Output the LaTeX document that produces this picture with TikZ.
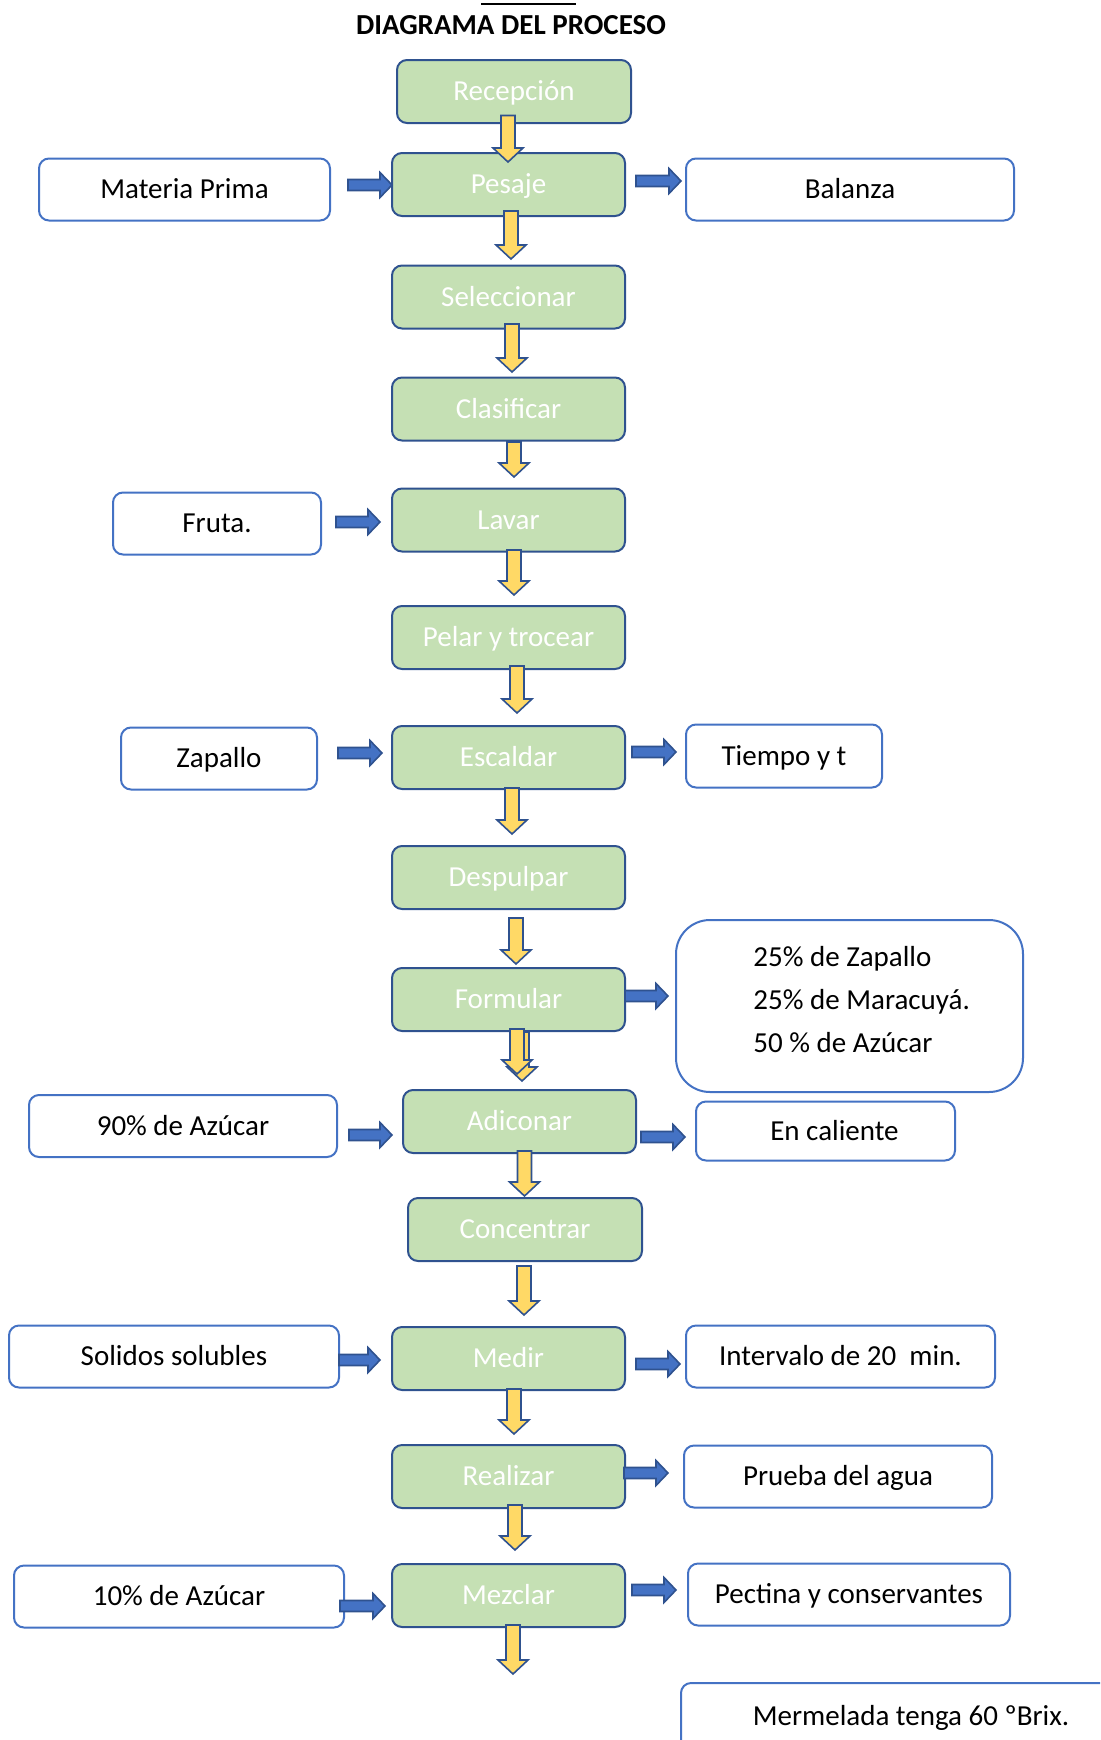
\documentclass[tikz,border=0pt]{standalone}
\usepackage{fontspec}
\setmainfont{Carlito}
\usepackage{tikz}
\usetikzlibrary{calc}
\definecolor{procfill}{HTML}{C5E0B4}
\definecolor{procline}{HTML}{2F528F}
\definecolor{auxline}{HTML}{4472C4}
\definecolor{yfill}{HTML}{FFD966}
\tikzset{
  proc/.style ={draw=procline,fill=procfill,line width=1pt,rounded corners=5pt,
                minimum width=116.5pt,minimum height=31.5pt,text=white,inner sep=0pt,
                text height=9.3pt,text depth=0pt},
  aux/.style  ={draw=auxline,fill=white,line width=1pt,rounded corners=5pt,
                minimum height=31pt,inner sep=0pt,text height=9.3pt,text depth=0pt},
  yarr/.style ={draw=procline,fill=yfill,line width=0.8pt},
  barr/.style ={draw=procline,fill=auxline,line width=0.8pt},
}
% block arrows: down uses x,y of #1 and y of #2; right uses x,y of #1 and x of #2
\newcommand{\dnarrow}[2]{%
  \filldraw[yarr] let \p1=#1, \p2=#2 in
    (\x1-3.5pt,\y1) -- (\x1+3.5pt,\y1) -- (\x1+3.5pt,\y2+7pt) -- (\x1+7.5pt,\y2+7pt)
    -- (\x1,\y2) -- (\x1-7.5pt,\y2+7pt) -- (\x1-3.5pt,\y2+7pt) -- cycle;}
\newcommand{\rtarrow}[2]{%
  \filldraw[barr] let \p1=#1, \p2=#2 in
    (\x1,\y1+2.75pt) -- (\x2-6pt,\y1+2.75pt) -- (\x2-6pt,\y1+6.25pt) -- (\x2,\y1)
    -- (\x2-6pt,\y1-6.25pt) -- (\x2-6pt,\y1-2.75pt) -- (\x1,\y1-2.75pt) -- cycle;}

\begin{document}
\begin{tikzpicture}[x=0.5pt,y=-0.5pt,font=\fontsize{14.5}{17.4}\selectfont]
  \clip (0,0) rectangle (1100,1740);
  \node[font=\bfseries\fontsize{14.5}{17.4}\selectfont] (title) at (511,25) {DIAGRAMA DEL PROCESO};
  \draw[line width=1.2pt] (481,4) -- (576,4);
  % main column
  \node[proc,minimum width=117pt] (recep) at (514,91.5) {Recepción};
  \node[proc] (pesaje)    at (508.5,184.5)  {Pesaje};
  \node[proc] (selec)     at (508.5,297)    {Seleccionar};
  \node[proc] (clasif)    at (508.5,409)    {Clasificar};
  \node[proc] (lavar)     at (508.5,520)    {Lavar};
  \node[proc] (pelar)     at (508.5,637.5)  {Pelar y trocear};
  \node[proc] (escaldar)  at (508.5,757.5)  {Escaldar};
  \node[proc] (despulpar) at (508.5,877.5)  {Despulpar};
  \node[proc] (formular)  at (508.5,999.5)  {Formular};
  \node[proc] (adicionar) at (519.5,1121.5) {Adiconar};
  \node[proc,minimum width=117pt] (concentrar) at (525,1229.5) {Concentrar};
  \node[proc] (medir)     at (508.5,1358.5) {Medir};
  \node[proc] (realizar)  at (508.5,1476.5) {Realizar};
  \node[proc] (mezclar)   at (508.5,1595.5) {Mezclar};
  \coordinate (fin) at (513,1674);
  % inputs
  \node[aux,minimum width=145.5pt] (matprima) at (184.5,189.5) {Materia Prima};
  \node[aux,minimum width=104pt]   (fruta)    at (217,523.5)   {Fruta.};
  \node[aux,minimum width=98pt]    (zapallo)  at (219,758.5)   {Zapallo};
  \node[aux,minimum width=154pt]   (azucar90) at (183,1126)    {90\% de Azúcar};
  \node[aux,minimum width=165pt]   (solidos)  at (174,1356.5)  {Solidos solubles};
  \node[aux,minimum width=165pt]   (azucar10) at (179,1596.5)  {10\% de Azúcar};
  % outputs / notes
  \node[aux,minimum width=164pt]   (balanza)  at (850,189.5)   {Balanza};
  \node[aux,minimum width=98pt,minimum height=31.5pt] (tiempo) at (784,756) {Tiempo y t};
  \node[aux,minimum width=173.5pt,minimum height=86pt,rounded corners=17pt] (formula) at (849.5,1006) {};
  \node[align=left,anchor=west,inner sep=0pt,font=\fontsize{14.5}{21.5}\selectfont] (formtxt) at (753,1000)
    {25\% de Zapallo\\25\% de Maracuyá.\\50 \% de Azúcar};
  \node[aux,minimum width=129.5pt,minimum height=29.5pt] (caliente) at (825.5,1131) {\hspace*{9pt}En caliente};
  \node[aux,minimum width=154.5pt] (intervalo) at (840.5,1356.5) {Intervalo de 20\ \ min.};
  \node[aux,minimum width=154pt]   (prueba)    at (838,1476.5)   {Prueba del agua};
  \node[aux,minimum width=161pt]   (pectina)   at (849,1594.5)   {Pectina y conservantes};
  \node[aux,minimum width=230pt,minimum height=33pt] (brix) at (911,1716) {Mermelada tenga 60 ºBrix.};
  % flow down
  \dnarrow{($(recep.south)+(-6,-8.5)$)}{($(pesaje.north)+(0,10)$)}
  \dnarrow{($(pesaje.south)+(2.5,-6)$)}{($(selec.north)+(0,-5.5)$)}
  \dnarrow{($(selec.south)+(3.5,-5.5)$)}{($(clasif.north)+(0,-4.5)$)}
  \dnarrow{($(clasif.south)+(5.5,0.5)$)}{($(lavar.north)+(0,-10.5)$)}
  \dnarrow{($(lavar.south)+(5.5,-2.5)$)}{($(pelar.north)+(0,-10)$)}
  \dnarrow{($(pelar.south)+(8.5,-4)$)}{($(escaldar.north)+(0,-12)$)}
  \dnarrow{($(escaldar.south)+(3.5,-2)$)}{($(despulpar.north)+(0,-11)$)}
  \dnarrow{($(despulpar.south)+(7.5,8)$)}{($(formular.north)+(0,-3)$)}
  \dnarrow{($(formular.south)+(13.5,0)$)}{($(adicionar.north)+(0,-8)$)}
  \dnarrow{($(formular.south)+(8.5,-3)$)}{($(adicionar.north)+(0,-15)$)}
  \dnarrow{($(adicionar.south)+(5,-3)$)}{($(concentrar.north)+(0,-1)$)}
  \dnarrow{($(concentrar.south)+(-1,4)$)}{($(medir.north)+(0,-11)$)}
  \dnarrow{($(medir.south)+(5.5,-2)$)}{($(realizar.north)+(0,-10)$)}
  \dnarrow{($(realizar.south)+(6.5,-4)$)}{($(mezclar.north)+(0,-13)$)}
  \dnarrow{($(mezclar.south)+(4.5,-3)$)}{(fin)}
  % side arrows
  \rtarrow{($(matprima.east)+(17,-4.5)$)}{($(pesaje.west)+(1,0)$)}
  \rtarrow{($(pesaje.east)+(10,-3.5)$)}{($(balanza.west)+(-4,0)$)}
  \rtarrow{($(fruta.east)+(14,-1.5)$)}{($(lavar.west)+(-11,0)$)}
  \rtarrow{($(zapallo.east)+(20,-5.5)$)}{($(escaldar.west)+(-9,0)$)}
  \rtarrow{($(escaldar.east)+(6,-5.5)$)}{($(tiempo.west)+(-9,0)$)}
  \rtarrow{($(formular.east)+(-1,-3.5)$)}{($(formula.west)+(-7,0)$)}
  \rtarrow{($(azucar90.east)+(11,9)$)}{($(adicionar.west)+(-10,0)$)}
  \rtarrow{($(adicionar.east)+(4,15.5)$)}{($(caliente.west)+(-10,0)$)}
  \rtarrow{($(solidos.east)+(-1,3.5)$)}{($(medir.west)+(-11,0)$)}
  \rtarrow{($(medir.east)+(10,5.5)$)}{($(intervalo.west)+(-5,0)$)}
  \rtarrow{($(realizar.east)+(-2,-3.5)$)}{($(prueba.west)+(-15,0)$)}
  \rtarrow{($(azucar10.east)+(-5,9.5)$)}{($(mezclar.west)+(-6,0)$)}
  \rtarrow{($(mezclar.east)+(6,-5.5)$)}{($(pectina.west)+(-11,0)$)}
\end{tikzpicture}
\end{document}
